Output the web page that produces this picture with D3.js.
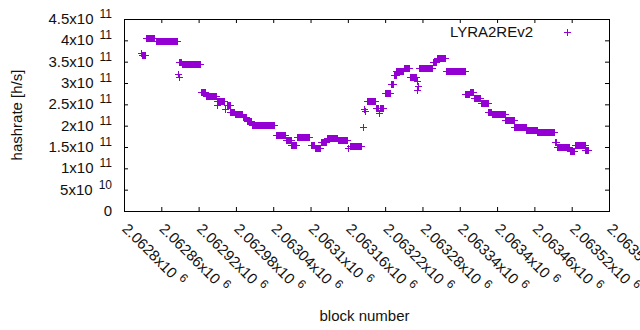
<!DOCTYPE html>
<html>
<head>
<meta charset="utf-8">
<script src="https://cdn.jsdelivr.net/npm/d3@7"></script>
<style>
  body { margin: 0; background: #fff; }
  svg { display: block; font-family: "Liberation Sans", Arial, sans-serif; }
  .tick line { stroke: #000; }
</style>
</head>
<body>
<svg id="chart" width="640" height="330"></svg>
<script>
// hashrate runs: [first block, last block, hashrate h/s]
var hashrateRuns = [
  [2062828, 2062828, 3.71e11], [2062829, 2062833, 3.66e11],
  [2062836, 2062849, 4.06e11],
  [2062851, 2062885, 3.98e11],
  [2062887, 2062887, 3.21e11], [2062888, 2062888, 3.14e11],
  [2062889, 2062892, 3.49e11], [2062893, 2062922, 3.44e11],
  [2062924, 2062931, 2.80e11],
  [2062932, 2062948, 2.69e11],
  [2062949, 2062949, 2.49e11], [2062950, 2062961, 2.57e11],
  [2062963, 2062963, 2.38e11], [2062965, 2062970, 2.49e11],
  [2062971, 2062977, 2.33e11], [2062978, 2062990, 2.28e11],
  [2062991, 2062997, 2.21e11], [2062998, 2063005, 2.12e11],
  [2063006, 2063042, 2.01e11],
  [2063044, 2063059, 1.78e11],
  [2063061, 2063068, 1.66e11], [2063069, 2063076, 1.55e11],
  [2063078, 2063098, 1.73e11],
  [2063101, 2063106, 1.55e11], [2063107, 2063116, 1.47e11],
  [2063117, 2063125, 1.61e11],
  [2063127, 2063143, 1.71e11], [2063144, 2063159, 1.66e11],
  [2063161, 2063161, 1.47e11], [2063163, 2063181, 1.53e11],
  [2063184, 2063184, 1.97e11],
  [2063186, 2063186, 2.38e11], [2063187, 2063187, 2.34e11],
  [2063190, 2063204, 2.57e11],
  [2063205, 2063209, 2.41e11], [2063210, 2063210, 2.30e11], [2063211, 2063216, 2.41e11],
  [2063219, 2063228, 2.77e11],
  [2063229, 2063233, 2.98e11],
  [2063234, 2063237, 3.19e11],
  [2063238, 2063249, 3.27e11],
  [2063250, 2063259, 3.34e11],
  [2063260, 2063270, 3.15e11],
  [2063271, 2063271, 3.05e11], [2063272, 2063272, 2.84e11], [2063273, 2063273, 2.93e11],
  [2063275, 2063295, 3.34e11],
  [2063297, 2063302, 3.50e11],
  [2063303, 2063316, 3.58e11],
  [2063318, 2063348, 3.27e11],
  [2063349, 2063355, 2.75e11], [2063356, 2063361, 2.79e11],
  [2063363, 2063373, 2.64e11],
  [2063374, 2063385, 2.52e11],
  [2063386, 2063391, 2.33e11],
  [2063392, 2063412, 2.28e11],
  [2063413, 2063427, 2.13e11],
  [2063428, 2063446, 1.96e11],
  [2063447, 2063464, 1.89e11],
  [2063465, 2063491, 1.845e11],
  [2063493, 2063495, 1.61e11],
  [2063496, 2063516, 1.51e11],
  [2063517, 2063524, 1.395e11],
  [2063525, 2063541, 1.547e11],
  [2063542, 2063547, 1.42e11]
];

var yTicks = [0, 5e10, 1e11, 1.5e11, 2e11, 2.5e11, 3e11, 3.5e11, 4e11, 4.5e11];
var yTickLabels = [["0", ""], ["5x10", "10"], ["1x10", "11"], ["1.5x10", "11"], ["2x10", "11"],
  ["2.5x10", "11"], ["3x10", "11"], ["3.5x10", "11"], ["4x10", "11"], ["4.5x10", "11"]];

var xTicks = [2062800, 2062860, 2062920, 2062980, 2063040, 2063100, 2063160,
  2063220, 2063280, 2063340, 2063400, 2063460, 2063520, 2063580];
var xTickLabels = ["2.0628x10", "2.06286x10", "2.06292x10", "2.06298x10", "2.06304x10", "2.0631x10",
  "2.06316x10", "2.06322x10", "2.06328x10", "2.06334x10", "2.0634x10", "2.06346x10",
  "2.06352x10", "2.06358x10"];
var xTickExp = "6";

var seriesName = "LYRA2REv2";
var color = "#9400d3";

var svg = d3.select("#chart");
var pLeft = 124, pRight = 609, pTop = 19, pBottom = 211;

var x = d3.scaleLinear().domain([2062800, 2063580]).range([pLeft, pRight]);
var y = d3.scaleLinear().domain([0, 4.5e11]).range([pBottom, pTop]);

// ticks (inward, mirrored)
var tl = 4;
svg.append("g").attr("transform", `translate(${pLeft},0)`)
  .call(d3.axisLeft(y).tickValues(yTicks).tickSize(-tl).tickFormat(""));
svg.append("g").attr("transform", `translate(${pRight},0)`)
  .call(d3.axisRight(y).tickValues(yTicks).tickSize(-tl).tickFormat(""));
svg.append("g").attr("transform", `translate(0,${pBottom})`)
  .call(d3.axisBottom(x).tickValues(xTicks).tickSize(-tl).tickFormat(""));
svg.append("g").attr("transform", `translate(0,${pTop})`)
  .call(d3.axisTop(x).tickValues(xTicks).tickSize(-tl).tickFormat(""));
svg.selectAll(".domain").remove();

svg.append("rect")
  .attr("x", pLeft + 0.5).attr("y", pTop + 0.5)
  .attr("width", pRight - pLeft).attr("height", pBottom - pTop)
  .attr("fill", "none").attr("stroke", "#000");

// y labels
var yl = svg.selectAll("text.ylab").data(yTicks).enter().append("text")
  .attr("class", "ylab")
  .attr("x", pLeft - 12)
  .attr("y", function(d) { return y(d) + 5; })
  .attr("text-anchor", "end")
  .attr("font-size", 15)
  .attr("fill", "#111");
yl.append("tspan").text(function(d, i) { return yTickLabels[i][0]; });
yl.append("tspan").attr("font-size", 12).attr("dx", 6).attr("dy", -6)
  .text(function(d, i) { return yTickLabels[i][1]; });

// x labels, rotated
var xl = svg.selectAll("text.xlab").data(xTicks).enter().append("text")
  .attr("class", "xlab")
  .attr("font-size", 15)
  .attr("fill", "#111")
  .attr("transform", function(d) { return `translate(${x(d) + 1},226) rotate(45)`; })
  .attr("dy", "0.35em");
xl.append("tspan").text(function(d, i) { return xTickLabels[i]; });
xl.append("tspan").attr("font-size", 12).attr("dx", 5).attr("dy", -6).text(xTickExp);

// axis titles
svg.append("text")
  .attr("transform", `translate(22,${(pTop + pBottom) / 2}) rotate(-90)`)
  .attr("text-anchor", "middle").attr("font-size", 15).attr("fill", "#111")
  .text("hashrate [h/s]");
svg.append("text")
  .attr("x", (pLeft + pRight) / 2 - 2).attr("y", 321)
  .attr("text-anchor", "middle").attr("font-size", 15).attr("fill", "#111")
  .text("block number");

// points
var points = [];
hashrateRuns.forEach(function(r) {
  for (var b = r[0]; b <= r[1]; b++) points.push({ block: b, value: r[2] });
});

var plus = "M-3.5,0H3.5M0,-3.5V3.5";
svg.append("g").selectAll("path").data(points).enter().append("path")
  .attr("d", plus)
  .attr("transform", function(d) {
    return `translate(${Math.round(x(d.block)) + 0.5},${Math.round(y(d.value)) + 0.5})`;
  })
  .attr("stroke", color).attr("stroke-width", 1).attr("fill", "none")
  .attr("shape-rendering", "crispEdges");

// legend
svg.append("text")
  .attr("x", 533).attr("y", 37)
  .attr("text-anchor", "end").attr("font-size", 15).attr("fill", "#111")
  .text(seriesName);
svg.append("path").attr("d", plus)
  .attr("transform", "translate(567.5,32.5)")
  .attr("stroke", color).attr("fill", "none").attr("shape-rendering", "crispEdges");
</script>
</body>
</html>
